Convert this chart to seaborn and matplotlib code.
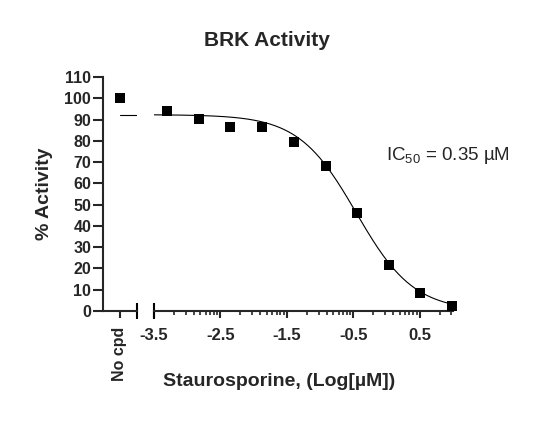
import numpy as np
import pandas as pd
import matplotlib
matplotlib.use("Agg")
import matplotlib.pyplot as plt
import seaborn as sns

# values
log_conc = [-3.30, -2.82, -2.35, -1.87, -1.39, -0.91, -0.44, 0.04, 0.51, 0.99]
activity = [94.2, 90.1, 86.7, 86.7, 79.6, 68.3, 46.2, 21.6, 8.3, 2.4]
no_cpd_label = "No cpd"
no_cpd_activity = 100.0
x_ticks = [-3.5, -2.5, -1.5, -0.5, 0.5]
x_tick_labels = ["-3.5", "-2.5", "-1.5", "-0.5", "0.5"]
y_ticks = list(range(0, 111, 10))

# fitted curve parameters (Prism style 4PL)
fit_top = 92.3
fit_bottom = 0.0
ic50_um = 0.35
hill = 1.0

sns.set_style("ticks")
plt.rcParams["font.family"] = ["Liberation Sans", "DejaVu Sans"]
plt.rcParams["font.weight"] = "bold"
plt.rcParams["mathtext.default"] = "regular"

points = pd.DataFrame({"log_conc": log_conc, "activity": activity})
curve_x = np.linspace(-3.5, 1.0, 300)
curve = pd.DataFrame({
    "log_conc": curve_x,
    "activity": fit_bottom + (fit_top - fit_bottom) / (1 + 10 ** ((curve_x - np.log10(ic50_um)) * hill)),
})

fig = plt.figure(figsize=(5.45, 4.29), dpi=100)
W, H = 545, 429
y_top, y_bot = 77, 311
ax_l = fig.add_axes([103 / W, 1 - y_bot / H, 34 / W, (y_bot - y_top) / H])
ax_r = fig.add_axes([154 / W, 1 - y_bot / H, 299 / W, (y_bot - y_top) / H], sharey=ax_l)

# left segment: no compound control
ctrl = pd.DataFrame({"x": [0.0], "activity": [no_cpd_activity]})
sns.scatterplot(data=ctrl, x="x", y="activity", ax=ax_l, marker="s", s=60,
                color="black", edgecolor="black", linewidth=0, clip_on=False, zorder=3)
ax_l.plot([0, 1], [fit_top, fit_top], color="black", lw=0.8)
ax_l.set_xlim(-0.95, 1.0)
ax_l.set_ylim(0, 110)
ax_l.set_xticks([0])
ax_l.set_xticklabels([no_cpd_label], rotation=90, fontsize=11.5, fontweight="bold")
ax_l.set_yticks(y_ticks)
ax_l.set_yticklabels([str(v) for v in y_ticks], fontsize=11.5, fontweight="bold")
ax_l.tick_params(axis="y", length=7, width=1.5, pad=1.5)
ax_l.tick_params(axis="x", length=5, width=1.5, pad=6)
for side in ["top", "right"]:
    ax_l.spines[side].set_visible(False)
for side in ["left", "bottom"]:
    ax_l.spines[side].set_linewidth(1.5)
ax_l.plot([1], [0], marker="|", ms=11, mew=1.5, color="black",
          transform=ax_l.transAxes, clip_on=False)
ax_l.set_xlabel("")
ax_l.set_ylabel("% Activity", fontsize=14, fontweight="bold", labelpad=8)

# right segment: dose response
sns.lineplot(data=curve, x="log_conc", y="activity", ax=ax_r, color="black", lw=0.8)
sns.scatterplot(data=points, x="log_conc", y="activity", ax=ax_r, marker="s", s=60,
                color="black", edgecolor="black", linewidth=0, clip_on=False, zorder=3)
ax_r.set_xlim(-3.5, 1.0)
ax_r.set_xticks(x_ticks)
ax_r.set_xticklabels(x_tick_labels, fontsize=12, fontweight="bold")
minor = [m + np.log10(k) for m in x_ticks for k in range(2, 10) if m + np.log10(k) <= 1.0]
ax_r.set_xticks(minor, minor=True)
ax_r.tick_params(axis="x", which="major", length=5, width=1.5, pad=7)
ax_r.tick_params(axis="x", which="minor", length=3, width=1.2)
ax_r.tick_params(axis="y", left=False, labelleft=False)
for side in ["top", "right", "left"]:
    ax_r.spines[side].set_visible(False)
ax_r.spines["bottom"].set_linewidth(1.5)
ax_r.plot([0], [0], marker="|", ms=11, mew=1.5, color="black",
          transform=ax_r.transAxes, clip_on=False)
ax_r.set_ylabel("")
ax_r.set_xlabel("")

ax_r.text(0.775, 0.665, "IC$_{50}$ = 0.35 µM", transform=ax_r.transAxes,
          fontsize=13.5, fontweight="normal", ha="left", va="center")

fig.text(267 / W, 1 - 40 / H, "BRK Activity", fontsize=15, fontweight="bold",
         ha="center", va="center")
fig.text(279 / W, 1 - 382 / H, "Staurosporine, (Log[µM])", fontsize=14,
         fontweight="bold", ha="center", va="center")

fig.savefig("out.png", dpi=100)
